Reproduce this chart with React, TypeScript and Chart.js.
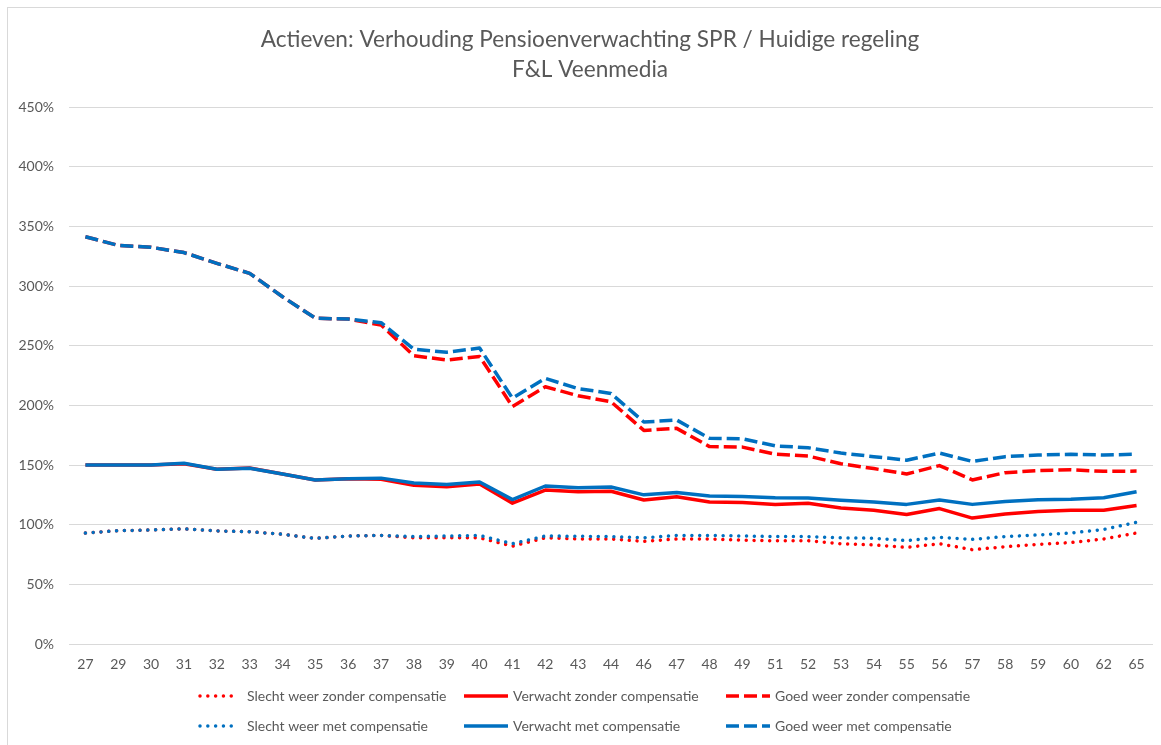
import React, { useEffect, useRef } from "react";
import { Chart, registerables } from "chart.js";

Chart.register(...registerables);

const categories = ["27","29","30","31","32","33","34","35","36","37","38","39","40","41","42","43","44","46","47","48","49","51","52","53","54","55","56","57","58","59","60","62","65"];

const slechtZonder = [93,95,95.5,96.5,94.8,94,92,88.5,90.5,91,89,89,89,82,89,88,88,86,88,88,87,86.5,86.6,84,83,81,84,79,81.5,83.5,85,88,93];
const verwachtZonder = [150,150,150,151,146.5,147.5,142.5,137.4,138.5,138,133,131.8,134,118,129,127.6,128,120.7,123.4,119,118.5,117,118,114,112,108.5,113.5,105.5,109,111,112,112,116];
const goedZonder = [341.3,334,332.4,328,319,310.6,291,273,272.3,267.3,241.6,238,241,199,215.6,208,203,179,180.7,165.4,165,159,157.5,151,147,142.5,149.5,137.5,143.6,145.3,146,144.7,144.9];

const slechtMet = [93,95,95.5,96.5,94.8,94,92,88.5,90.5,91,90,90.5,91,84,90.5,90.3,90,89,91,91,90.5,90,90,89,88.6,86.6,89.4,87.7,90,91.4,93,96,102];
const verwachtMet = [150,150,150,151.4,146.4,147.2,142.5,137.4,138.5,139,135,133.7,135.8,121,132.4,131,131.5,125,127,124,123.5,122.6,122.4,120.5,119,117,120.6,117,119.5,120.8,121.3,122.5,127.6];
const goedMet = [341.3,334,332.4,328,319,310.6,291,273,272.3,269.3,247,244.5,248,206,222.6,214,210,186,187.7,172.4,172,166,164.5,160,157,154,160,153,157,158.4,159,158.4,159];

const yTicks = [0,50,100,150,200,250,300,350,400,450];

const titleLines = ["Actieven: Verhouding Pensioenverwachting SPR / Huidige regeling", "F&L Veenmedia"];

const RED = "#FF0000";
const BLUE = "#0070C0";
const TEXT = "#595959";
const FONT = "Lato, 'Open Sans', sans-serif";

const DOT = [0.01, 7.8];
const DASH = [13, 5];

const legendItems = [
  { label: "Slecht weer zonder compensatie", color: RED, dash: DOT, cap: "round", col: 0, row: 0 },
  { label: "Verwacht zonder compensatie", color: RED, dash: [], cap: "butt", col: 1, row: 0 },
  { label: "Goed weer zonder compensatie", color: RED, dash: DASH, cap: "butt", col: 2, row: 0 },
  { label: "Slecht weer met compensatie", color: BLUE, dash: DOT, cap: "round", col: 0, row: 1 },
  { label: "Verwacht met compensatie", color: BLUE, dash: [], cap: "butt", col: 1, row: 1 },
  { label: "Goed weer met compensatie", color: BLUE, dash: DASH, cap: "butt", col: 2, row: 1 },
];

const titlePlugin = {
  id: "customTitle",
  afterDraw(chart: any) {
    const ctx = chart.ctx;
    ctx.save();
    ctx.fillStyle = TEXT;
    ctx.font = `22.6px ${FONT}`;
    ctx.textAlign = "center";
    ctx.textBaseline = "middle";
    ctx.fillText(titleLines[0], 582, 32);
    ctx.fillText(titleLines[1], 582, 62);
    ctx.restore();
  },
};

const legendPlugin = {
  id: "customLegend",
  afterDraw(chart: any) {
    const ctx = chart.ctx;
    const colX = [190, 456, 718];
    const rowY = [688, 718];
    ctx.save();
    for (const it of legendItems) {
      const x = colX[it.col];
      const y = rowY[it.row];
      ctx.beginPath();
      ctx.strokeStyle = it.color;
      ctx.lineWidth = 3.5;
      ctx.lineCap = it.cap;
      ctx.setLineDash(it.dash);
      const len = it.dash === DOT ? 40 : 44;
      ctx.moveTo(x + (it.dash === DOT ? 2 : 0), y);
      ctx.lineTo(x + len, y);
      ctx.stroke();
      ctx.setLineDash([]);
      ctx.fillStyle = TEXT;
      ctx.font = `14px ${FONT}`;
      ctx.textAlign = "left";
      ctx.textBaseline = "middle";
      ctx.fillText(it.label, x + 49, y);
    }
    ctx.restore();
  },
};

function ds(label: string, data: number[], color: string, kind: string) {
  return {
    label,
    data,
    borderColor: color,
    backgroundColor: color,
    borderWidth: 3.5,
    borderDash: kind === "dot" ? DOT : kind === "dash" ? DASH : [],
    borderCapStyle: kind === "dot" ? "round" : "butt",
    borderJoinStyle: "round",
    pointRadius: 0,
    tension: 0,
    fill: false,
  };
}

export default function App() {
  const ref = useRef<HTMLCanvasElement | null>(null);
  useEffect(() => {
    if (!ref.current) return;
    const chart = new Chart(ref.current, {
      type: "line",
      data: {
        labels: categories,
        datasets: [
          ds("Slecht weer met compensatie", slechtMet, BLUE, "dot"),
          ds("Verwacht met compensatie", verwachtMet, BLUE, "solid"),
          ds("Goed weer met compensatie", goedMet, BLUE, "dash"),
          ds("Slecht weer zonder compensatie", slechtZonder, RED, "dot"),
          ds("Verwacht zonder compensatie", verwachtZonder, RED, "solid"),
          ds("Goed weer zonder compensatie", goedZonder, RED, "dash"),
        ] as any,
      },
      options: {
        animation: false,
        responsive: false,
        maintainAspectRatio: false,
        layout: { padding: { top: 99, right: 8, bottom: 71, left: 0 } },
        plugins: {
          legend: { display: false },
          title: { display: false },
          tooltip: { enabled: false },
        },
        scales: {
          x: {
            type: "category",
            offset: true,
            grid: { display: false, drawTicks: false },
            border: { display: false },
            ticks: {
              color: TEXT,
              font: { family: FONT, size: 14 },
              padding: 12,
              autoSkip: false,
              maxRotation: 0,
            },
            afterFit(scale: any) {
              scale.height = 30;
            },
          },
          y: {
            min: 0,
            max: 450,
            afterBuildTicks(scale: any) {
              scale.ticks = yTicks.map((v) => ({ value: v }));
            },
            grid: { color: "#D9D9D9", lineWidth: 1, drawTicks: false },
            border: { display: false },
            ticks: {
              color: TEXT,
              font: { family: FONT, size: 14 },
              padding: 15,
              callback: (v: any) => `${v}%`,
            },
            afterFit(scale: any) {
              scale.width = 61;
            },
          },
        },
      } as any,
      plugins: [titlePlugin, legendPlugin],
    });
    return () => chart.destroy();
  }, []);

  return (
    <div
      style={{
        position: "fixed",
        left: 7,
        top: 7,
        width: 1154,
        height: 738,
        borderLeft: "1px solid #D9D9D9",
        borderTop: "1px solid #D9D9D9",
        background: "#fff",
      }}
    >
      <canvas ref={ref} width={1153} height={737} style={{ display: "block", width: 1153, height: 737 }} />
    </div>
  );
}
